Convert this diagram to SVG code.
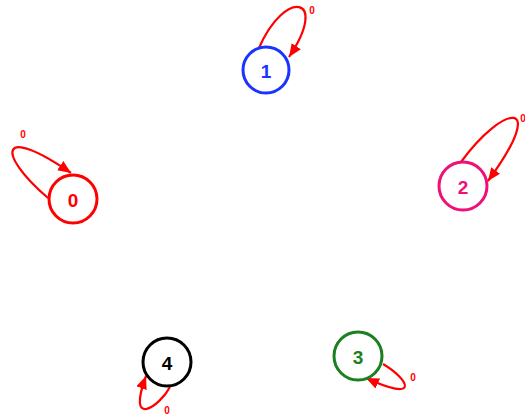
<svg xmlns="http://www.w3.org/2000/svg" width="525" height="419" viewBox="0 0 525 419">
<style>
.node circle{fill:#fff;stroke-width:3}
.node text{font-family:"Liberation Sans",Arial,sans-serif;font-weight:bold;font-size:19px;text-anchor:middle;dominant-baseline:central}
.edge{fill:none;stroke:#ff0000;stroke-width:2.2;marker-end:url(#arr)}
.lbl{font-family:"Liberation Sans",Arial,sans-serif;font-weight:bold;font-size:10px;fill:#ff0000;text-anchor:middle;dominant-baseline:central}
</style>
<defs>
<marker id="arr" markerUnits="userSpaceOnUse" markerWidth="14" markerHeight="12" refX="13" refY="5.5" orient="auto">
<path d="M0,0 L13,5.5 L0,11 z" fill="#ff0000"/>
</marker>
</defs>
<g id="edges">
<path class="edge" d="M259,48 C285,-12 330,-4 289,57"/>
<text class="lbl" x="312" y="10">0</text>
<path class="edge" d="M48,198 C-5,152 0,124 71,173"/>
<text class="lbl" x="23" y="134">0</text>
<path class="edge" d="M461,162 C503,104 550,96 488,181"/>
<text class="lbl" x="523" y="118">0</text>
<path class="edge" d="M383,364 C410,380 420,403 366,378"/>
<text class="lbl" x="413" y="377">0</text>
<path class="edge" d="M170,387 C160,406 126,430 146,376"/>
<text class="lbl" x="167" y="410">0</text>
</g>
<g id="node0" class="node"><circle cx="73" cy="199" r="24" stroke="#ff0000"/><text x="73" y="200" fill="#ff0000">0</text></g>
<g id="node1" class="node"><circle cx="266" cy="70" r="23" stroke="#1a33ff"/><text x="266" y="71" fill="#1a33ff">1</text></g>
<g id="node2" class="node"><circle cx="463" cy="186" r="24" stroke="#ee1177"/><text x="463" y="187" fill="#ee1177">2</text></g>
<g id="node3" class="node"><circle cx="358" cy="356" r="24" stroke="#1a8020"/><text x="358" y="357" fill="#1a8020">3</text></g>
<g id="node4" class="node"><circle cx="167" cy="362" r="24" stroke="#000000"/><text x="167" y="363" fill="#000000">4</text></g>
</svg>
